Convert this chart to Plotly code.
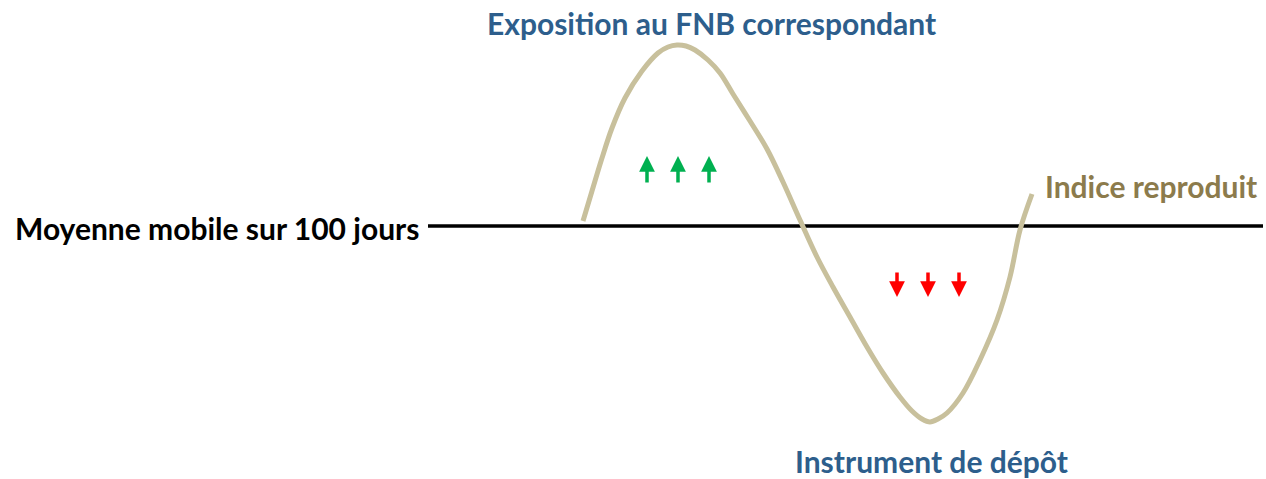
import plotly.graph_objects as go

# Curve of the tracked index (pixel-like coordinates)
curve_x = [583, 592, 602, 612, 625, 642, 658, 668, 677, 686, 695, 708, 720, 733, 750, 767, 783, 800,
           817, 833, 850, 867, 883, 900, 912, 922, 930, 938, 947, 963, 980, 997, 1010, 1020, 1032]
curve_y = [221, 191, 158, 128, 98, 71, 53, 47, 45, 46, 50, 60, 73, 94, 121, 149, 182, 220,
           257, 287, 317, 347, 373, 397, 411, 419, 422, 419, 413, 393, 360, 320, 277, 230, 194]

# Moving average line
ma_x = [428, 1263]
ma_y = [226, 226]

# Arrows
up_x = [647, 678, 709]
up_tail_y = 184
up_head_y = 156
down_x = [897, 928, 959]
down_tail_y = 271
down_head_y = 297

labels = {
    "top": "Exposition au FNB correspondant",
    "left": "Moyenne mobile sur 100 jours",
    "right": "Indice reproduit",
    "bottom": "Instrument de dépôt",
}

FONT = "Lato"
BLUE = "#2d5e8c"
KHAKI = "#c8c09c"
BROWN = "#8c7b4c"
FS = 30

fig = go.Figure()
fig.add_trace(go.Scatter(x=ma_x, y=ma_y, mode="lines", line=dict(color="#000000", width=3.5),
                         hoverinfo="skip", showlegend=False))
fig.add_trace(go.Scatter(x=curve_x, y=curve_y, mode="lines",
                         line=dict(color=KHAKI, width=5, shape="spline", smoothing=1.0),
                         hoverinfo="skip", showlegend=False))

anns = []
for x in up_x:
    anns.append(dict(x=x, y=up_head_y, ax=x, ay=up_tail_y, xref="x", yref="y", axref="x", ayref="y",
                     text="", showarrow=True, arrowhead=2, arrowsize=0.9, arrowwidth=3.5, arrowcolor="#00b050"))
for x in down_x:
    anns.append(dict(x=x, y=down_head_y, ax=x, ay=down_tail_y, xref="x", yref="y", axref="x", ayref="y",
                     text="", showarrow=True, arrowhead=2, arrowsize=0.9, arrowwidth=3.5, arrowcolor="#ff0000"))

anns.append(dict(x=711, y=23, xref="x", yref="y", text="<b>%s</b>" % labels["top"], showarrow=False,
                 xanchor="center", yanchor="middle", font=dict(family=FONT, size=FS, color=BLUE)))
anns.append(dict(x=13, y=228, xref="x", yref="y", text="<b>%s</b>" % labels["left"], showarrow=False,
                 xanchor="left", yanchor="middle", font=dict(family=FONT, size=FS, color="#000000")))
anns.append(dict(x=1043, y=186, xref="x", yref="y", text="<b>%s</b>" % labels["right"], showarrow=False,
                 xanchor="left", yanchor="middle", font=dict(family=FONT, size=FS, color=BROWN)))
anns.append(dict(x=931, y=461, xref="x", yref="y", text="<b>%s</b>" % labels["bottom"], showarrow=False,
                 xanchor="center", yanchor="middle", font=dict(family=FONT, size=FS, color=BLUE)))

fig.update_layout(
    width=1266, height=479, autosize=False,
    margin=dict(l=0, r=0, t=0, b=0),
    paper_bgcolor="white", plot_bgcolor="white",
    xaxis=dict(range=[0, 1266], visible=False, fixedrange=True),
    yaxis=dict(range=[479, 0], visible=False, fixedrange=True),
    annotations=anns,
)
fig.write_html("out.html", config={"displayModeBar": False},
               post_script="document.body.style.margin='0';document.body.style.overflow='hidden';")
